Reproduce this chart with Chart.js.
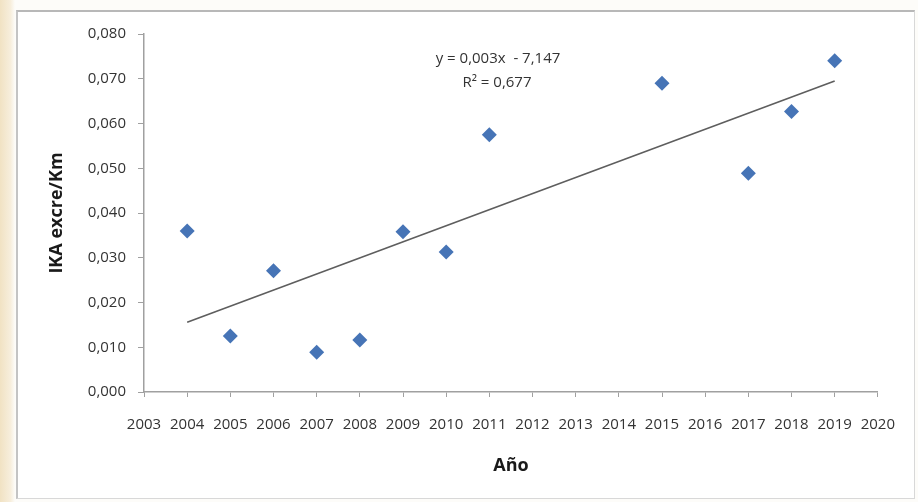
<!DOCTYPE html>
<html>
<head>
<meta charset="utf-8">
<script src="https://cdn.jsdelivr.net/npm/chart.js@4/dist/chart.umd.min.js"></script>
<style>
    body { margin: 0; width: 918px; height: 502px; background: #fdfcf9; position: relative; overflow: hidden; font-family: "Open Sans", sans-serif; }
    .strip { position: absolute; left: 0; top: 0; width: 15px; height: 502px; background: linear-gradient(to right, #f1e2c3, #f7eedc 70%, #fdfcf9); }
    .box { position: absolute; left: 16px; top: 10px; width: 896px; height: 486px; background: #fff; border: 1px solid #d8d8d8; border-top: 2px solid #b8b8b8; border-left: 2px solid #c4c4c4; }
    .box canvas { position: absolute; left: 0; top: 0; }
    .eq { position: absolute; color: #333; font-size: 15px; white-space: nowrap; transform: translateX(-50%); }
</style>
</head>
<body>
<div class="strip"></div>
<div class="box">
    <canvas id="ikaChart" width="896" height="486"></canvas>
    <div class="eq" style="left: 480px; top: 35px;">y = 0,003x &nbsp;- 7,147</div>
    <div class="eq" style="left: 479px; top: 59px;">R² = 0,677</div>
</div>
<script>
// datos
const years = [2004, 2005, 2006, 2007, 2008, 2009, 2010, 2011, 2015, 2017, 2018, 2019];
const ikaValues = [0.0360, 0.0125, 0.0271, 0.0089, 0.0116, 0.0358, 0.0313, 0.0575, 0.0690, 0.0489, 0.0627, 0.0740];
// línea de tendencia (extremos)
const trendYears = [2004, 2019];
const trendValues = [0.0156, 0.0695];

const tickFont = { family: '"Open Sans", sans-serif', size: 15 };
const titleFont = { family: '"Open Sans", sans-serif', size: 18, weight: 'bold' };
const axisColor = '#a0a0a0';

const ctx = document.getElementById('ikaChart').getContext('2d');
new Chart(ctx, {
    type: 'scatter',
    data: {
        datasets: [
            {
                label: 'IKA',
                data: years.map((y, i) => ({ x: y, y: ikaValues[i] })),
                pointStyle: 'rectRot',
                pointRadius: 7.5,
                backgroundColor: '#4674b6',
                borderColor: '#4674b6',
                borderWidth: 0,
                order: 1
            },
            {
                label: 'Tendencia',
                type: 'line',
                data: trendYears.map((y, i) => ({ x: y, y: trendValues[i] })),
                borderColor: '#5e5e5e',
                borderWidth: 1.6,
                pointRadius: 0,
                fill: false,
                order: 2
            }
        ]
    },
    options: {
        responsive: false,
        animation: false,
        layout: { padding: { top: 22, right: 35, left: 0, bottom: 0 } },
        plugins: {
            legend: { display: false },
            tooltip: { enabled: false }
        },
        scales: {
            x: {
                type: 'linear',
                min: 2003,
                max: 2020,
                ticks: { stepSize: 1, color: '#333', font: tickFont, padding: 19, maxRotation: 0, autoSkip: false, callback: v => String(v) },
                grid: { drawOnChartArea: false, drawTicks: true, tickLength: 5, color: axisColor },
                border: { color: axisColor, width: 1.5 },
                title: { display: true, text: 'Año', color: '#1a1a1a', font: titleFont, padding: { top: 0, bottom: 21 } },
                afterFit: s => { s.height = 106; }
            },
            y: {
                min: 0,
                max: 0.08,
                ticks: { stepSize: 0.01, color: '#333', font: tickFont, padding: 12, callback: v => v.toFixed(3).replace('.', ',') },
                grid: { drawOnChartArea: false, drawTicks: true, tickLength: 6, color: axisColor },
                border: { color: axisColor, width: 1.5 },
                title: { display: true, text: 'IKA excre/Km', color: '#1a1a1a', font: titleFont, padding: { top: 28, bottom: 0 } },
                afterFit: s => { s.width = 126; }
            }
        }
    }
});
</script>
</body>
</html>
